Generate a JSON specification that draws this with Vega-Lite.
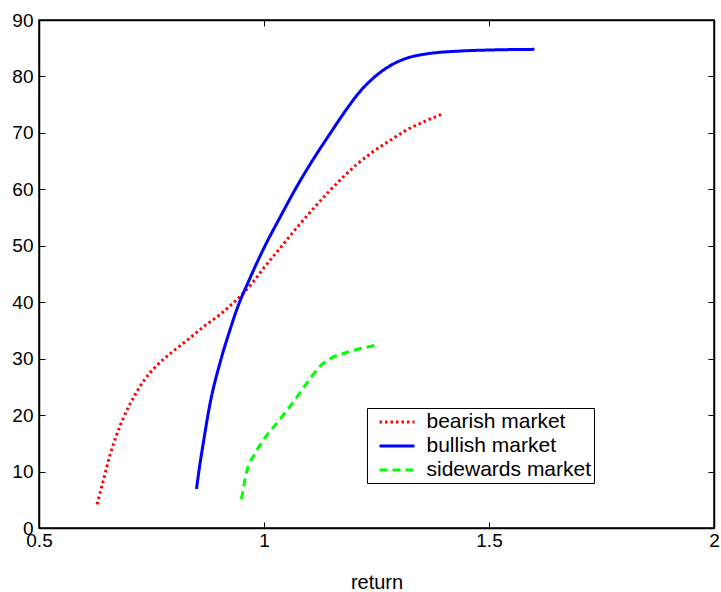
{
  "$schema": "https://vega.github.io/schema/vega-lite/v6.json",
  "width": 675,
  "height": 508,
  "autosize": {"type": "none"},
  "padding": {"left": 39, "top": 20, "right": 7, "bottom": 64},
  "background": "white",
  "data": {
    "values": [
      {"market": "bearish market", "ret": 0.629, "n": 4.2},
      {"market": "bearish market", "ret": 0.643, "n": 8.4},
      {"market": "bearish market", "ret": 0.658, "n": 13.0},
      {"market": "bearish market", "ret": 0.673, "n": 16.6},
      {"market": "bearish market", "ret": 0.687, "n": 19.4},
      {"market": "bearish market", "ret": 0.710, "n": 23.1},
      {"market": "bearish market", "ret": 0.732, "n": 26.0},
      {"market": "bearish market", "ret": 0.762, "n": 28.8},
      {"market": "bearish market", "ret": 0.798, "n": 31.3},
      {"market": "bearish market", "ret": 0.836, "n": 33.7},
      {"market": "bearish market", "ret": 0.865, "n": 35.6},
      {"market": "bearish market", "ret": 0.902, "n": 37.8},
      {"market": "bearish market", "ret": 0.928, "n": 39.6},
      {"market": "bearish market", "ret": 0.954, "n": 41.6},
      {"market": "bearish market", "ret": 0.976, "n": 43.6},
      {"market": "bearish market", "ret": 0.998, "n": 45.9},
      {"market": "bearish market", "ret": 1.036, "n": 49.6},
      {"market": "bearish market", "ret": 1.073, "n": 53.2},
      {"market": "bearish market", "ret": 1.110, "n": 56.6},
      {"market": "bearish market", "ret": 1.143, "n": 59.5},
      {"market": "bearish market", "ret": 1.175, "n": 62.1},
      {"market": "bearish market", "ret": 1.206, "n": 64.4},
      {"market": "bearish market", "ret": 1.243, "n": 66.7},
      {"market": "bearish market", "ret": 1.287, "n": 69.0},
      {"market": "bearish market", "ret": 1.317, "n": 70.5},
      {"market": "bearish market", "ret": 1.362, "n": 72.2},
      {"market": "bearish market", "ret": 1.398, "n": 73.4},
      {"market": "bullish market", "ret": 0.850, "n": 6.9},
      {"market": "bullish market", "ret": 0.857, "n": 11.0},
      {"market": "bullish market", "ret": 0.865, "n": 15.0},
      {"market": "bullish market", "ret": 0.880, "n": 22.0},
      {"market": "bullish market", "ret": 0.902, "n": 29.2},
      {"market": "bullish market", "ret": 0.924, "n": 35.0},
      {"market": "bullish market", "ret": 0.939, "n": 38.6},
      {"market": "bullish market", "ret": 0.969, "n": 44.3},
      {"market": "bullish market", "ret": 0.998, "n": 49.3},
      {"market": "bullish market", "ret": 1.036, "n": 55.1},
      {"market": "bullish market", "ret": 1.073, "n": 60.5},
      {"market": "bullish market", "ret": 1.110, "n": 65.4},
      {"market": "bullish market", "ret": 1.147, "n": 69.9},
      {"market": "bullish market", "ret": 1.180, "n": 73.8},
      {"market": "bullish market", "ret": 1.213, "n": 77.3},
      {"market": "bullish market", "ret": 1.250, "n": 80.2},
      {"market": "bullish market", "ret": 1.287, "n": 82.2},
      {"market": "bullish market", "ret": 1.324, "n": 83.4},
      {"market": "bullish market", "ret": 1.362, "n": 84.0},
      {"market": "bullish market", "ret": 1.436, "n": 84.5},
      {"market": "bullish market", "ret": 1.510, "n": 84.7},
      {"market": "bullish market", "ret": 1.601, "n": 84.8},
      {"market": "sidewards market", "ret": 0.950, "n": 5.1},
      {"market": "sidewards market", "ret": 0.961, "n": 9.8},
      {"market": "sidewards market", "ret": 0.980, "n": 13.2},
      {"market": "sidewards market", "ret": 0.998, "n": 15.5},
      {"market": "sidewards market", "ret": 1.036, "n": 19.3},
      {"market": "sidewards market", "ret": 1.065, "n": 22.3},
      {"market": "sidewards market", "ret": 1.102, "n": 26.4},
      {"market": "sidewards market", "ret": 1.124, "n": 28.6},
      {"market": "sidewards market", "ret": 1.147, "n": 30.0},
      {"market": "sidewards market", "ret": 1.184, "n": 31.1},
      {"market": "sidewards market", "ret": 1.250, "n": 32.4}
    ]
  },
  "layer": [
    {
      "mark": {"type": "line", "strokeWidth": 3, "interpolate": "monotone"},
      "encoding": {
        "x": {
          "field": "ret", "type": "quantitative",
          "scale": {"domain": [0.5, 2], "nice": false, "zero": false},
          "axis": {"orient": "bottom", "values": [0.5, 1, 1.5, 2], "format": "~g", "title": "return", "tickSize": -6, "labelPadding": 9, "titlePadding": 22}
        },
        "y": {
          "field": "n", "type": "quantitative",
          "scale": {"domain": [0, 90], "nice": false},
          "axis": {"orient": "left", "values": [0, 10, 20, 30, 40, 50, 60, 70, 80, 90], "title": null, "tickSize": -6, "labelPadding": 12}
        },
        "color": {
          "field": "market", "type": "nominal",
          "scale": {"domain": ["bearish market", "bullish market", "sidewards market"], "range": ["#ff0000", "#0000ff", "#00ff00"]},
          "legend": {"title": null, "orient": "none", "legendX": 328, "legendY": 388}
        },
        "strokeDash": {
          "field": "market", "type": "nominal",
          "scale": {"domain": ["bearish market", "bullish market", "sidewards market"], "range": [[2.5, 3], [1, 0], [8, 5]]},
          "legend": {"title": null, "orient": "none", "legendX": 328, "legendY": 388}
        }
      }
    },
    {
      "mark": {"type": "point", "opacity": 0},
      "encoding": {
        "x": {
          "field": "ret", "type": "quantitative",
          "scale": {"domain": [0.5, 2], "nice": false, "zero": false},
          "axis": {"orient": "top", "values": [0.5, 1, 1.5, 2], "labels": false, "title": null, "tickSize": -6}
        },
        "y": {
          "field": "n", "type": "quantitative",
          "scale": {"domain": [0, 90], "nice": false},
          "axis": {"orient": "right", "values": [0, 10, 20, 30, 40, 50, 60, 70, 80, 90], "labels": false, "title": null, "tickSize": -6}
        }
      }
    }
  ],
  "resolve": {"axis": {"x": "independent", "y": "independent"}},
  "config": {
    "view": {"stroke": "black", "strokeWidth": 1.5},
    "font": "Liberation Sans",
    "axis": {
      "grid": false,
      "domainColor": "black",
      "domainWidth": 1.5,
      "tickColor": "black",
      "tickWidth": 1,
      "labelColor": "black",
      "labelFont": "Liberation Sans",
      "labelFontSize": 19,
      "labelFlush": false,
      "labelOverlap": false,
      "titleFont": "Liberation Sans",
      "titleFontSize": 20,
      "titleFontWeight": "normal",
      "titleColor": "black"
    },
    "legend": {
      "strokeColor": "black",
      "fillColor": "white",
      "padding": 2.5,
      "rowPadding": 2,
      "symbolType": "M-1.75,0H1.75",
      "symbolSize": 400,
      "symbolStrokeWidth": 3,
      "symbolFillColor": "transparent",
      "symbolOffset": 16,
      "labelOffset": 18,
      "labelFont": "Liberation Sans",
      "labelFontSize": 21,
      "labelColor": "black",
      "labelLimit": 300
    }
  }
}
